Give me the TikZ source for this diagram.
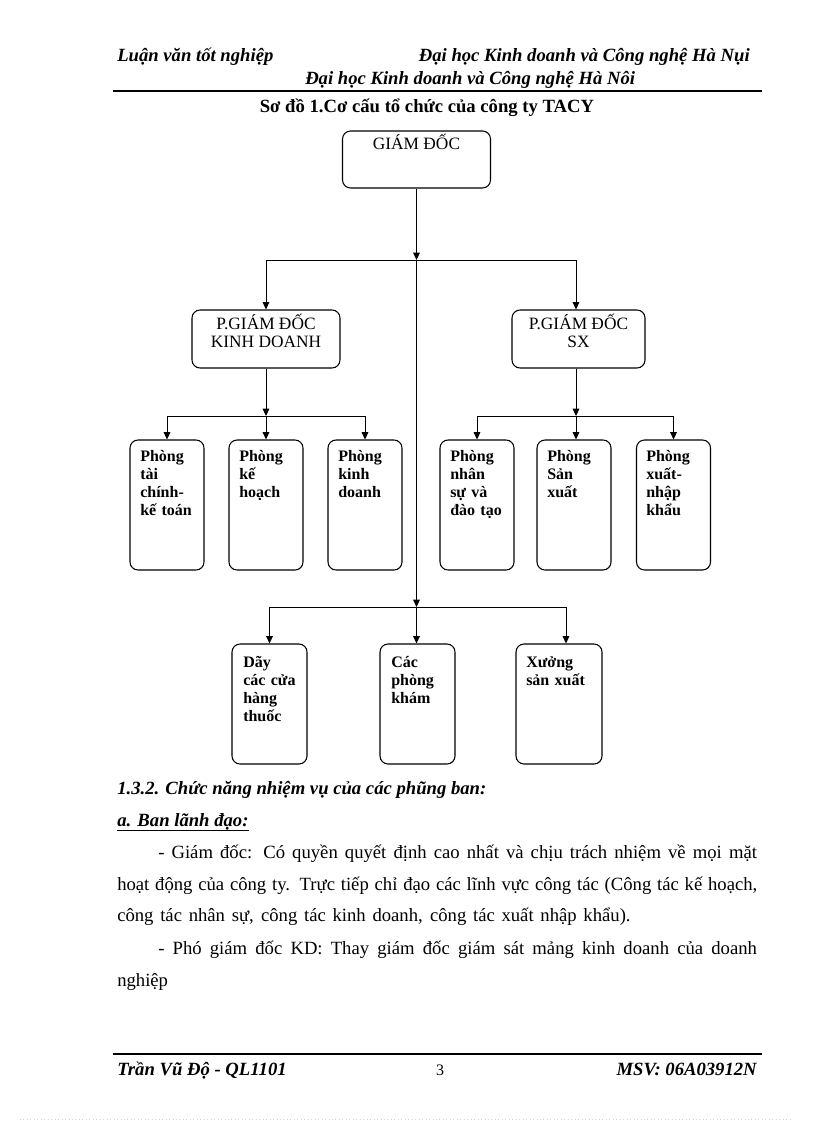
\documentclass[tikz,border=0pt]{standalone}
\usepackage{fontspec}
\setmainfont{Liberation Serif}
\usetikzlibrary{arrows.meta}
\begin{document}
\begin{tikzpicture}[x=0.75pt,y=-0.75pt,
  frame/.style={draw, line width=0.8pt, rounded corners=6pt, inner sep=0pt},
  lead/.style={font=\fontsize{13}{13.5}\selectfont, inner sep=0pt, anchor=base},
  dept/.style={font=\bfseries\fontsize{12}{13.5}\selectfont, align=left, text width=60pt, inner sep=0pt, anchor=base west},
  conn/.style={line width=0.75pt},
  arr/.style={conn, -{Triangle[length=5.5pt,width=5pt]}},
  hdr/.style={font=\bfseries\itshape\fontsize{14}{16}\selectfont, inner sep=0pt},
  body/.style={font=\fontsize{14}{16}\selectfont, inner sep=0pt, anchor=base west},
]
\useasboundingbox (0,0) rectangle (816,1123);
\fill[white] (0,0) rectangle (816,1123);

% header
\node[hdr, anchor=base west] (h1) at (117,62) {Luận văn tốt nghiệp};
\node[hdr, anchor=base east] (h2) at (750,62) {Đại học Kinh doanh và Công nghệ Hà Nụi};
\node[hdr, anchor=base west] (h3) at (305,85) {Đại học Kinh doanh và Công nghệ Hà Nôi};
\coordinate (r1a) at (113,91);
\coordinate (r1b) at (762,91);
\draw[line width=1.5pt] (r1a) -- (r1b);
\node[font=\bfseries\fontsize{14}{16}\selectfont, anchor=base, inner sep=0pt] (title) at (427,113) {Sơ đồ 1.Cơ cấu tổ chức của công ty TACY};

% leading boxes
\node[frame, minimum width=111pt, minimum height=42.75pt] (gd) at (416.5,159.5) {};
\node[lead] (gdt) at (416.5,150) {GIÁM ĐỐC};
\node[frame, minimum width=111pt, minimum height=43.5pt] (kd) at (266,339) {};
\node[lead] (kdt1) at (266,329) {P.GIÁM ĐỐC};
\node[lead] (kdt2) at (266,347) {KINH DOANH};
\node[frame, minimum width=99.75pt, minimum height=43.5pt] (sx) at (578.5,339) {};
\node[lead] (sxt1) at (578.5,329) {P.GIÁM ĐỐC};
\node[lead] (sxt2) at (578.5,347) {SX};

% department boxes
\node[frame, minimum width=55.5pt, minimum height=97.5pt] (b1) at (167,505) {};
\node[frame, minimum width=55.5pt, minimum height=97.5pt] (b2) at (266,505) {};
\node[frame, minimum width=55.5pt, minimum height=97.5pt] (b3) at (365,505) {};
\node[frame, minimum width=55.5pt, minimum height=97.5pt] (b4) at (477,505) {};
\node[frame, minimum width=55.5pt, minimum height=97.5pt] (b5) at (574,505) {};
\node[frame, minimum width=55.5pt, minimum height=97.5pt] (b6) at (673.5,505) {};
\node[dept] (b1t) at (140,461) {Phòng\\tài\\chính-\\kế toán};
\node[dept] (b2t) at (239,461) {Phòng\\kế\\hoạch};
\node[dept] (b3t) at (338,461) {Phòng\\kinh\\doanh};
\node[dept] (b4t) at (450,461) {Phòng\\nhân\\sự và\\đào tạo};
\node[dept] (b5t) at (547,461) {Phòng\\Sản\\xuất};
\node[dept] (b6t) at (646,461) {Phòng\\xuất-\\nhập\\khẩu};

% bottom boxes
\node[frame, minimum width=56.25pt, minimum height=90pt] (c1) at (269.5,704) {};
\node[frame, minimum width=56.25pt, minimum height=90pt] (c2) at (417.5,704) {};
\node[frame, minimum width=64.5pt, minimum height=90pt] (c3) at (559,704) {};
\node[dept] (c1t) at (243,667) {Dãy\\các cửa\\hàng\\thuốc};
\node[dept] (c2t) at (391,667) {Các\\phòng\\khám};
\node[dept] (c3t) at (526,667) {Xưởng\\sản xuất};

% connectors
\coordinate (j1) at (416.5,260);
\coordinate (j1l) at (266,260);
\coordinate (j1r) at (576,260);
\coordinate (j3) at (416.5,607);
\coordinate (j3l) at (269.5,607);
\coordinate (j3r) at (566,607);
\coordinate (j2) at (266,416);
\coordinate (j2l) at (167,416);
\coordinate (j2r) at (365,416);
\coordinate (j4) at (576,416);
\coordinate (j4l) at (477,416);
\coordinate (j4r) at (673.5,416);

\draw[arr] (gd.south) -- (j1);
\draw[arr] (j1) -- (j3);
\draw[conn] (j1l) -- (j1r);
\draw[arr] (j1l) -- (kd.north);
\draw[arr] (j1r) -- (j1r |- sx.north);

\draw[arr] (kd.south) -- (j2);
\draw[conn] (j2l) -- (j2r);
\draw[arr] (j2l) -- (b1.north);
\draw[arr] (j2) -- (b2.north);
\draw[arr] (j2r) -- (b3.north);

\draw[arr] (j4 |- sx.south) -- (j4);
\draw[conn] (j4l) -- (j4r);
\draw[arr] (j4l) -- (b4.north);
\draw[arr] (j4) -- (j4 |- b5.north);
\draw[arr] (j4r) -- (b6.north);

\draw[conn] (j3l) -- (j3r);
\draw[arr] (j3l) -- (c1.north);
\draw[arr] (j3) -- (j3 |- c2.north);
\draw[arr] (j3r) -- (j3r |- c3.north);

% text
\node[hdr, anchor=base west] (s1) at (117,794) {1.3.2. Chức năng nhiệm vụ của các phũng ban:};
\node[hdr, anchor=base west] (s2) at (117,826) {a. Ban lãnh đạo:};
\draw[line width=1.2pt] ([yshift=-3.5pt]s2.base west) -- ([yshift=-3.5pt]s2.base east);
\node[body] (p1) at (158,858) {\makebox[449pt][s]{- Giám đốc: Có quyền quyết định cao nhất và chịu trách nhiệm về mọi mặt}};
\node[body] (p2) at (117,890) {\makebox[480pt][s]{hoạt động của công ty. Trực tiếp chỉ đạo các lĩnh vực công tác (Công tác kế hoạch,}};
\node[body] (p3) at (117,921) {\makebox[385pt][s]{công tác nhân sự, công tác kinh doanh, công tác xuất nhập khẩu).}};
\node[body] (p4) at (158,954) {\makebox[449pt][s]{- Phó giám đốc KD: Thay giám đốc giám sát mảng kinh doanh của doanh}};
\node[body] (p5) at (117,986) {nghiệp};

% footer
\coordinate (r2a) at (113,1054);
\coordinate (r2b) at (762,1054);
\draw[line width=1.5pt] (r2a) -- (r2b);
\node[hdr, anchor=base west] (f1) at (117,1075) {Trần Vũ Độ - QL1101};
\node[font=\fontsize{12}{14}\selectfont, anchor=base, inner sep=0pt] (f2) at (440,1075) {3};
\node[hdr, anchor=base east] (f3) at (757,1075) {MSV: 06A03912N};
\coordinate (d1) at (20,1119);
\coordinate (d2) at (792,1119);
\draw[gray!35, dotted, line width=0.6pt] (d1) -- (d2);
\end{tikzpicture}
\end{document}
